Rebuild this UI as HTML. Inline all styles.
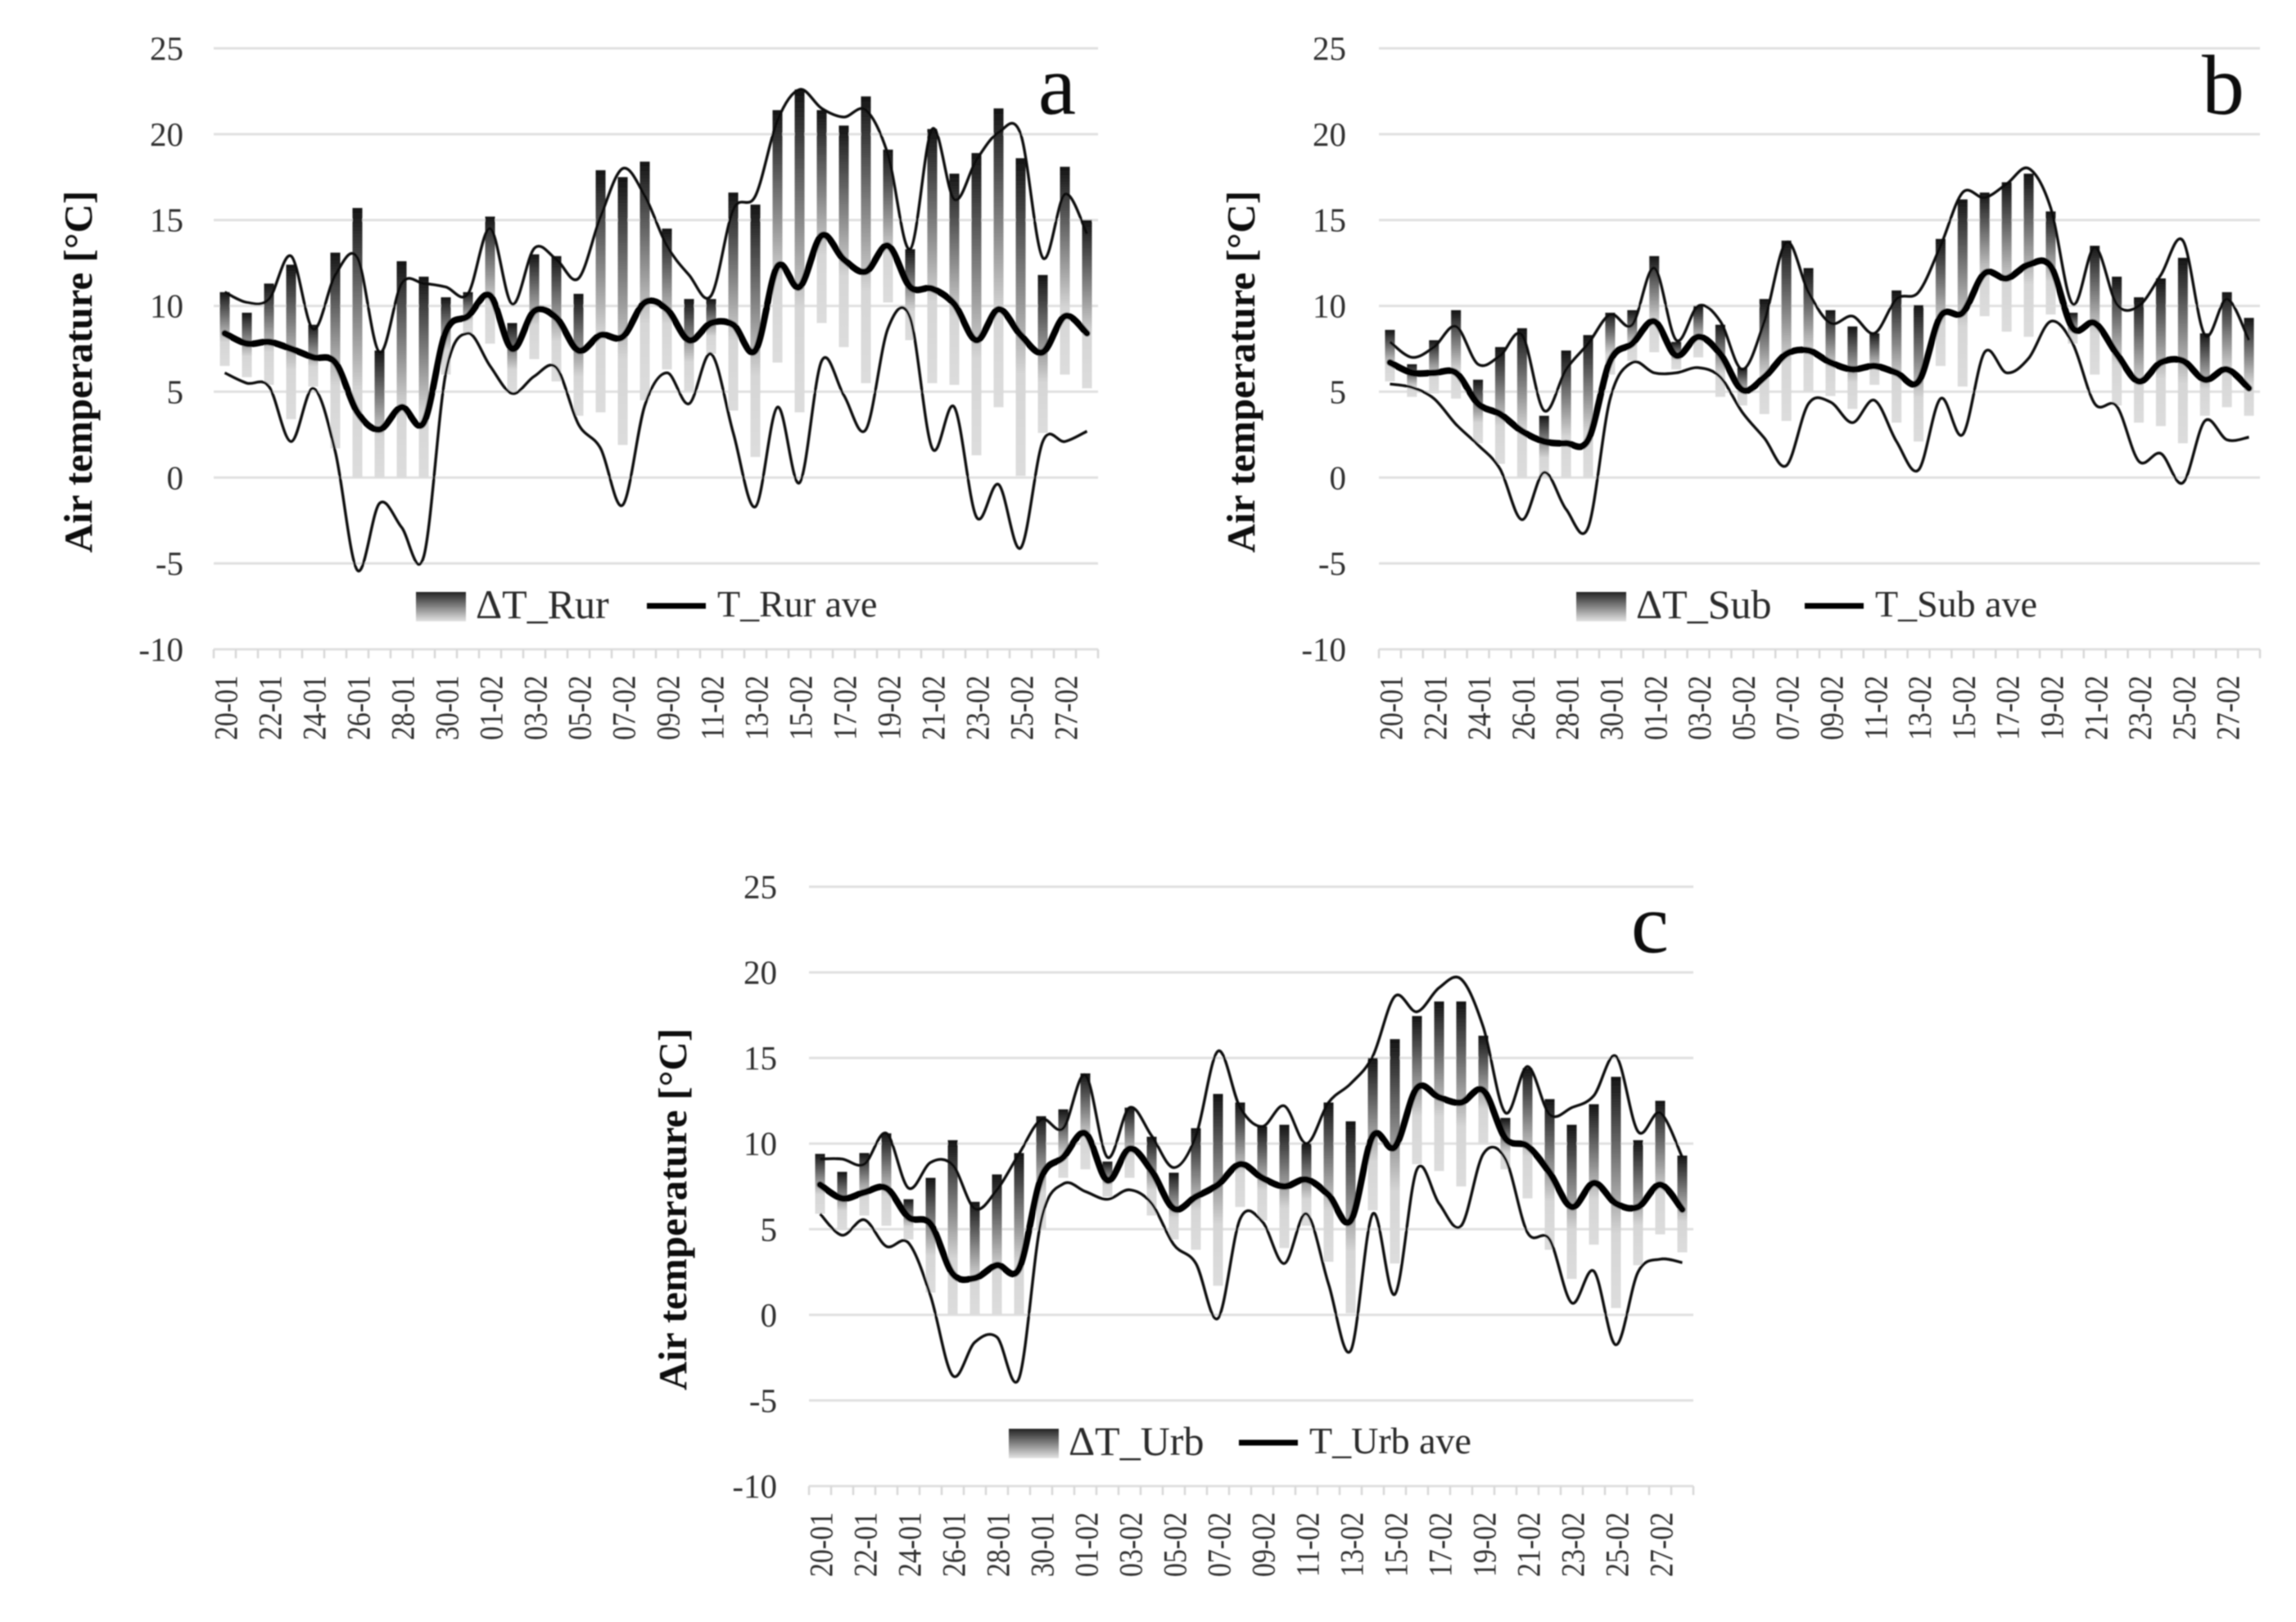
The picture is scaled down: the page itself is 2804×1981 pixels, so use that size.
<!DOCTYPE html>
<html lang="en">
<head>
<meta charset="utf-8">
<title>Air temperature panels</title>
<style>
html,body{margin:0;padding:0;background:#fff;width:2804px;height:1981px;overflow:hidden}
svg{display:block}
text{font-family:"Liberation Serif",serif}
</style>
</head>
<body>
<svg id="figure" xmlns="http://www.w3.org/2000/svg" width="2804" height="1981" viewBox="0 0 2804 1981">
<defs>
<linearGradient id="barGrad" x1="0" y1="0" x2="0" y2="1"><stop offset="0" stop-color="#141414"/><stop offset="0.68" stop-color="#d6d6d6"/><stop offset="1" stop-color="#dcdcdc"/></linearGradient>
<linearGradient id="swatchGrad" x1="0" y1="0" x2="0" y2="1"><stop offset="0" stop-color="#222"/><stop offset="1" stop-color="#e4e4e4"/></linearGradient>
<filter id="soft" x="-2%" y="-2%" width="104%" height="104%"><feGaussianBlur stdDeviation="0.9"/></filter>
</defs>
<g id="root" filter="url(#soft)"></g>
</svg>
<script>
const categories = ["20-01","21-01","22-01","23-01","24-01","25-01","26-01","27-01","28-01","29-01","30-01","31-01","01-02","02-02","03-02","04-02","05-02","06-02","07-02","08-02","09-02","10-02","11-02","12-02","13-02","14-02","15-02","16-02","17-02","18-02","19-02","20-02","21-02","22-02","23-02","24-02","25-02","26-02","27-02","28-02"];
const yTicks = [25,20,15,10,5,0,-5,-10];

const rurBarTop = [10.8,9.6,11.3,12.4,8.9,13.1,15.7,7.4,12.6,11.7,10.5,10.8,15.2,9.0,13,12.9,10.7,17.9,17.5,18.4,14.5,10.4,10.4,16.6,15.9,21.4,22.6,21.4,20.5,22.2,19.1,13.3,20.3,17.7,18.9,21.5,18.6,11.8,18.1,15];
const rurBarBottom = [6.5,5.85,5.4,3.4,5.3,1.7,0,0,0,0,6,8.3,7.8,5,6.9,5.6,3.6,3.8,1.9,4.5,6.3,5,7.2,3.9,1.2,6.7,3.8,9,7.6,5.5,10.2,8,5.5,5.4,1.3,4.1,0.1,2.6,6,5.2];
const rurMax = [10.8,10.2,10.4,12.9,8.65,11.8,12.8,7.3,11.3,11.3,11.1,10.7,14.5,10.1,13.35,12.7,11.6,15.2,18,16.4,13.5,11.8,10.6,15.6,16.4,20.8,22.6,21.5,21,21.4,18.8,13.3,20.3,16.2,18.5,20.1,20,12.8,16.5,14.2];
const rurAve = [8.4,7.8,7.9,7.5,7,6.7,3.8,2.8,4.1,3.2,8.5,9.4,10.6,7.5,9.7,9.3,7.4,8.3,8.2,10.2,9.8,8,9,8.9,7.4,12.3,11.1,14.1,12.7,12,13.5,11.1,11,10.1,8,9.8,8.3,7.3,9.4,8.4];
const rurMin = [6.1,5.5,5.3,2.1,5.2,1.5,-5.4,-1.5,-2.9,-4.6,6.1,8.4,6.5,4.9,5.9,6.4,3.1,1.7,-1.6,4.2,6.1,4.3,7.2,2.6,-1.7,4.1,-0.3,6.8,4.8,2.8,8.7,9.3,1.7,4.1,-2.3,-0.4,-4.1,2.1,2.1,2.7];

const subBarTop = [8.6,6.6,8,9.75,5.7,7.6,8.7,3.6,7.4,8.3,9.6,9.75,12.9,7.9,10,8.9,6.4,10.4,13.8,12.2,9.75,8.8,8.4,10.9,10.05,13.9,16.2,16.6,17.2,17.7,15.5,9.6,13.5,11.7,10.5,11.6,12.8,8.4,10.8,9.3];
const subBarBottom = [5.6,4.7,4.9,4.6,2,0.8,0,0,0,0,6,6.8,7.3,6.3,7,4.7,4.2,3.7,3.3,5,4.75,4,5.4,3.2,2.1,6.5,5.3,9.4,8.5,8.2,9.5,7.8,6,4.2,3.2,3,2,3.6,4.1,3.6];
const subMax = [7.9,7,7.6,8.8,6.6,7.1,8.3,3.9,6.3,7.8,9.5,8.9,12.2,8,10,9.1,6.3,9.1,13.7,10.8,9,9.4,8.4,10.4,10.8,13.5,16.6,16.3,17.1,18,15.7,10.1,13.4,10.1,10,11.8,13.8,8.3,10.4,8];
const subAve = [6.7,6.1,6.1,6.1,4.3,3.7,2.7,2.1,2,2.2,6.8,7.8,9.1,7.1,8.2,7.2,5.1,5.85,7.2,7.4,6.7,6.3,6.5,6.1,5.6,9.4,9.6,11.9,11.6,12.4,12.3,8.7,9,7.2,5.6,6.7,6.8,5.7,6.3,5.2];
const subMin = [5.45,5.25,4.6,3.1,1.9,0.5,-2.45,0.3,-1.85,-2.9,4.6,6.7,6.1,6.1,6.4,5.85,3.8,2.3,0.7,4.3,4.4,3.2,4.5,2.1,0.45,4.6,2.5,7.3,6.1,6.95,9.1,7.8,4.3,4.15,0.95,1.4,-0.3,3.3,2.2,2.35];

const urbBarTop = [9.4,8.35,9.45,10.6,6.75,8,10.2,6.6,8.2,9.45,11.6,12,14.1,8.95,12.1,10.4,8.3,10.9,12.9,12.4,11,11.1,10,12.4,11.3,15,16.1,17.45,18.3,18.3,16.3,11.5,14.4,12.6,11.1,12.3,13.9,10.2,12.5,9.3];
const urbBarBottom = [5.9,5,5.8,5.2,4.4,1.3,0,0,0,0,5,8,8.5,6.9,8,5.8,4.4,3.8,1.7,6.3,5.5,3.9,5.2,3.1,0.1,6.1,3,8.8,8.4,7.5,10,8.5,6.8,3.8,2.1,4.1,0.4,2.9,4.7,3.65];
const urbMax = [9.1,9.1,8.8,10.6,7.4,8.9,8.75,6.2,7.3,9.4,11.4,10.9,14,9.2,12.1,10.45,8.6,10.45,15.4,12.1,11,12.2,10,12.4,13.5,15.1,18.6,17.7,19.1,19.6,16.8,11.8,14.5,11.7,12.1,12.8,15.1,10.7,11.8,9.2];
const urbAve = [7.6,6.8,7.15,7.4,5.7,5.3,2.4,2.15,2.9,2.7,8,9.2,10.6,7.85,9.7,8.4,6.2,6.9,7.6,8.8,8,7.5,7.9,7,5.5,10.45,9.8,13.25,12.7,12.4,13.1,10.3,9.85,8.3,6.3,7.7,6.5,6.3,7.6,6.15];
const urbMin = [5.9,4.65,5.55,4,4.2,1.1,-3.55,-1.6,-1.3,-3.7,5.5,7.65,7.2,6.75,7.3,6.5,4.1,3,-0.2,5.6,5.45,3,5.9,1.8,-2.1,5.9,1.2,8.5,6.5,5.2,9.4,9.1,4.8,4.4,0.7,2.55,-1.75,2.5,3.25,3.05];

const SVGNS = "http://www.w3.org/2000/svg";
const root = document.getElementById("root");

function make(tag, parent, attrs, txt) {
  const el = document.createElementNS(SVGNS, tag);
  for (const k in attrs) el.setAttribute(k, attrs[k]);
  if (txt !== undefined) el.textContent = txt;
  parent.appendChild(el);
  return el;
}

function smoothPath(vals, xf, yf) {
  const pts = vals.map((v, i) => [xf(i), yf(v)]);
  let d = "M" + pts[0][0].toFixed(2) + " " + pts[0][1].toFixed(2);
  for (let i = 0; i < pts.length - 1; i++) {
    const p0 = pts[Math.max(i - 1, 0)], p1 = pts[i], p2 = pts[i + 1], p3 = pts[Math.min(i + 2, pts.length - 1)];
    const c1x = p1[0] + (p2[0] - p0[0]) / 6, c1y = p1[1] + (p2[1] - p0[1]) / 6;
    const c2x = p2[0] - (p3[0] - p1[0]) / 6, c2y = p2[1] - (p3[1] - p1[1]) / 6;
    d += "C" + c1x.toFixed(2) + " " + c1y.toFixed(2) + " " + c2x.toFixed(2) + " " + c2y.toFixed(2) + " " + p2[0].toFixed(2) + " " + p2[1].toFixed(2);
  }
  return d;
}

function drawPanel(cfg) {
  const g = make("g", root, {});
  
  
  const step = (cfg.x1 - cfg.x0) / categories.length;
  const xScale = i => cfg.x0 + step * (i + 0.5);
  const yScale = v => cfg.yTop + (25 - v) * (cfg.yBot - cfg.yTop) / 35;

  yTicks.forEach(t => {
    const line = make("line", g, {x1: cfg.x0, x2: cfg.x1, y1: yScale(t), y2: yScale(t), stroke: "#e0e0e0", "stroke-width": 3});
    
    
    const lab = make("text", g, {x: cfg.labelX, y: yScale(t) + 14, "text-anchor": "end", "font-size": 41, fill: "#2e2e2e"}, String(t));
    
    
  });

  for (let i = 0; i <= categories.length; i++) {
    const tx = cfg.x0 + step * i;
    const tick = make("line", g, {x1: tx, x2: tx, y1: yScale(-10), y2: yScale(-10) + 11, stroke: "#d8d8d8", "stroke-width": 2.5});
    
    
  }

  categories.forEach((c, i) => {
    if (i % 2 !== 0) return;
    const lx = xScale(i) + 3, ly = yScale(-10) + 32;
    const lab = make("text", g, {x: lx, y: ly, "text-anchor": "end", "font-size": 40, textLength: 79, lengthAdjust: "spacingAndGlyphs", fill: "#2e2e2e", transform: "rotate(-90 " + lx + " " + ly + ") translate(0 12)"}, c);
    
    
  });

  cfg.barTop.forEach((v, i) => {
    const top = yScale(v), bot = yScale(cfg.barBottom[i]);
    const bar = make("rect", g, {x: xScale(i) - 6, y: top, width: 12, height: bot - top, fill: "url(#barGrad)"});
    
    
  });

  const maxLine = make("path", g, {d: smoothPath(cfg.max, xScale, yScale), fill: "none", stroke: "#111", "stroke-width": 3.4});
  
  
  const minLine = make("path", g, {d: smoothPath(cfg.min, xScale, yScale), fill: "none", stroke: "#111", "stroke-width": 3.4});
  
  
  const aveLine = make("path", g, {d: smoothPath(cfg.ave, xScale, yScale), fill: "none", stroke: "#000", "stroke-width": 8, "stroke-linecap": "round"});
  
  

  const cy = (cfg.yTop + cfg.yBot) / 2 + 28;
  const title = make("text", g, {x: cfg.titleX, y: cy, "text-anchor": "middle", "font-size": 49, "font-weight": "bold", fill: "#111", transform: "rotate(-90 " + cfg.titleX + " " + cy + ")"}, "Air temperature [°C]");
  
  

  const letter = make("text", g, {x: cfg.letterX, y: cfg.yTop + 80, "text-anchor": "middle", "font-size": 104, fill: "#111"}, cfg.letter);
  
  

  const ly = cfg.yBot - 51;
  const swatch = make("rect", g, {x: cfg.swatchX, y: ly - 19, width: 61, height: 36, fill: "url(#swatchGrad)"});
  
  
  const t1 = make("text", g, {x: cfg.swatchX + 73, y: ly + 13, "font-size": 50, fill: "#2a2a2a"}, "ΔT_" + cfg.site);
  
  
  const keyLine = make("line", g, {x1: cfg.lineX, x2: cfg.lineX + 72, y1: ly - 2, y2: ly - 2, stroke: "#000", "stroke-width": 7});
  
  
  const t2 = make("text", g, {x: cfg.lineX + 86, y: ly + 11, "font-size": 46, fill: "#2a2a2a"}, "T_" + cfg.site + " ave");
  
  
}

drawPanel({letter: "a", site: "Rur", x0: 261, x1: 1341, yTop: 59, yBot: 793, labelX: 224, titleX: 112, letterX: 1291,
  swatchX: 508, lineX: 790, barTop: rurBarTop, barBottom: rurBarBottom, max: rurMax, ave: rurAve, min: rurMin});
drawPanel({letter: "b", site: "Sub", x0: 1684, x1: 2760, yTop: 59, yBot: 793, labelX: 1644, titleX: 1532, letterX: 2715,
  swatchX: 1925, lineX: 2204, barTop: subBarTop, barBottom: subBarBottom, max: subMax, ave: subAve, min: subMin});
drawPanel({letter: "c", site: "Urb", x0: 988, x1: 2068, yTop: 1083, yBot: 1815, labelX: 949, titleX: 838, letterX: 2015,
  swatchX: 1232, lineX: 1513, barTop: urbBarTop, barBottom: urbBarBottom, max: urbMax, ave: urbAve, min: urbMin});
</script>
</body>
</html>
